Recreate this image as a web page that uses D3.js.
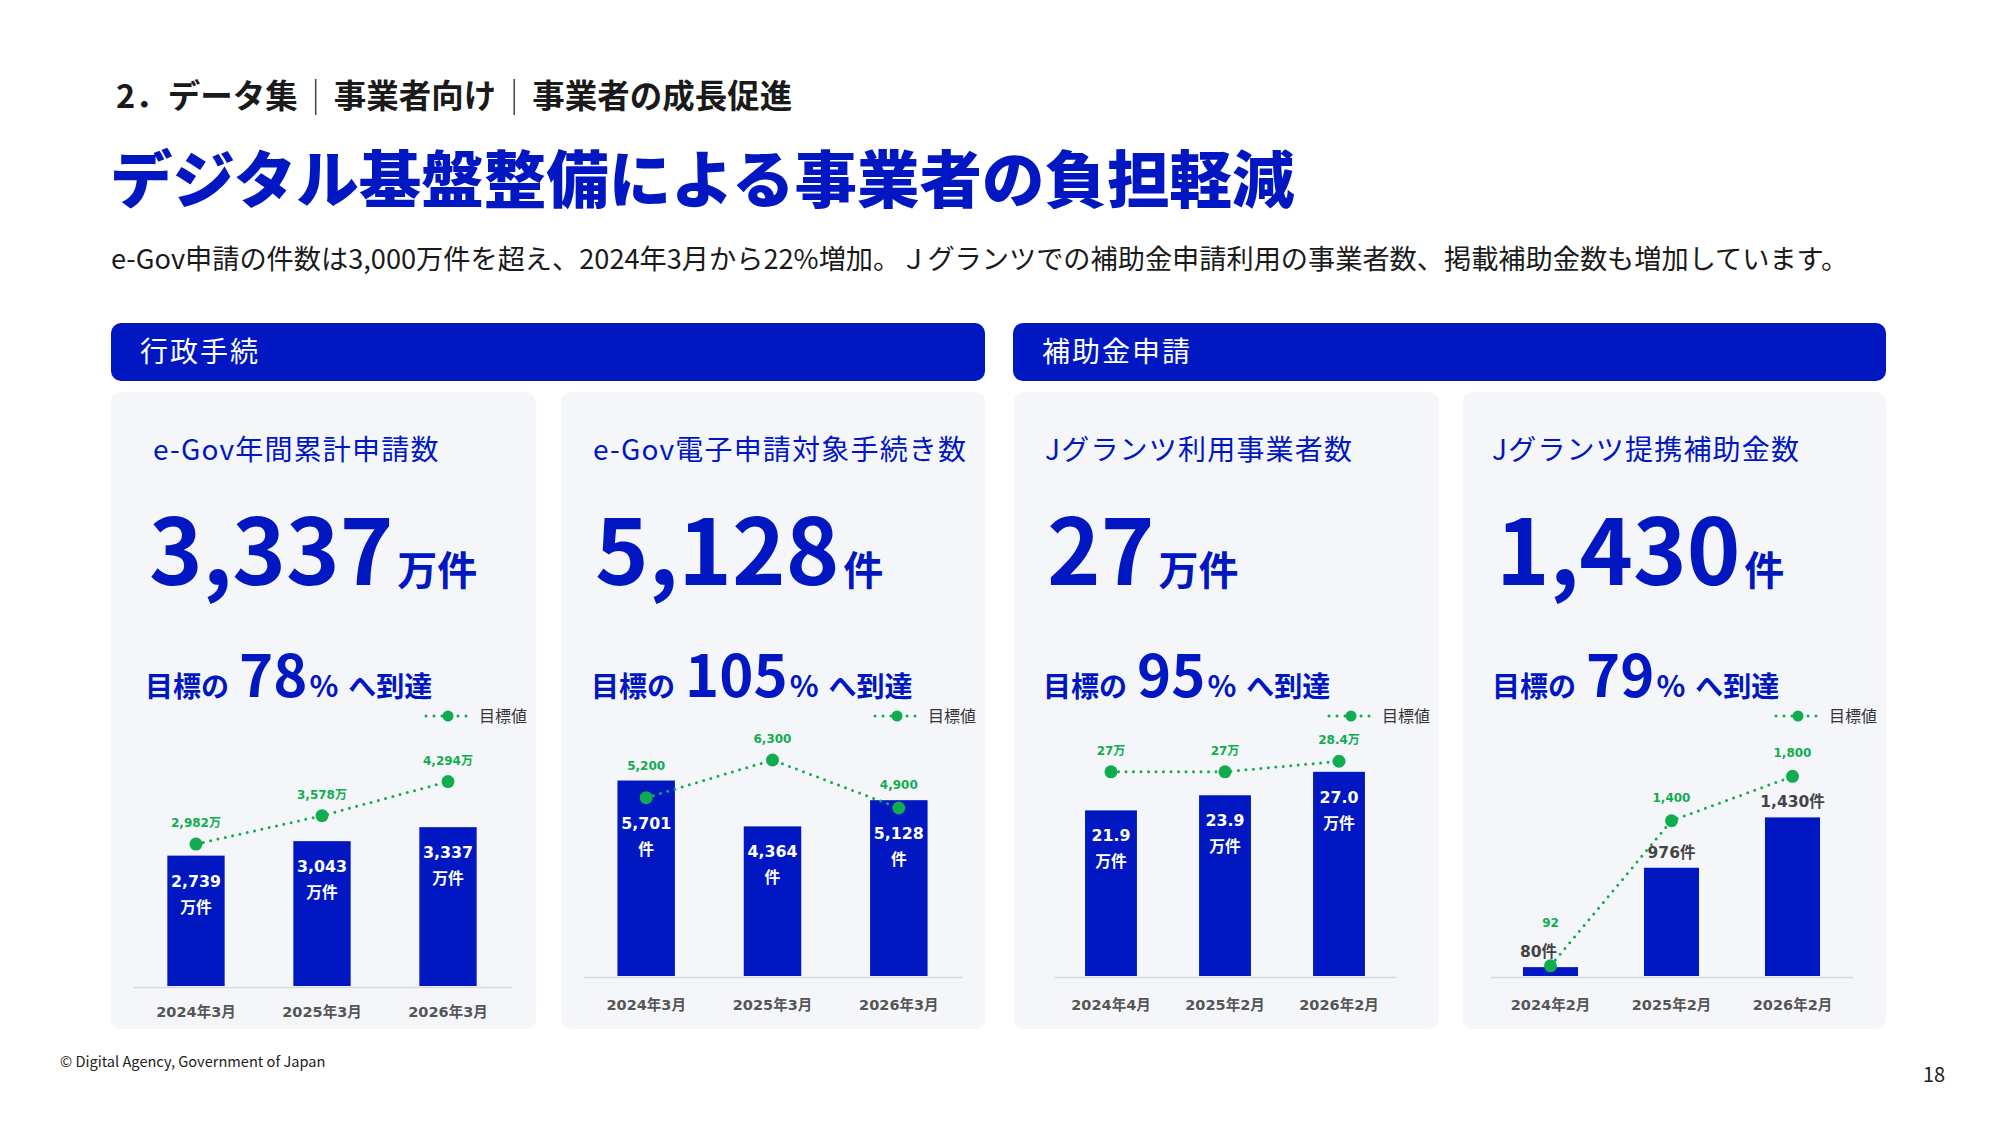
<!DOCTYPE html>
<html lang="ja">
<head>
<meta charset="utf-8">
<script src="https://d3js.org/d3.v7.min.js"></script>
<style>
  body { margin: 0; background: #fff; }
  svg { display: block; }
  .jp { font-family: 'Noto Sans CJK JP', sans-serif; }
  .num { font-family: 'DejaVu Sans', 'Noto Sans CJK JP', sans-serif; font-weight: bold; }
</style>
</head>
<body>
<script>
// ---- data ----
const breadcrumb = ["2．データ集", "事業者向け", "事業者の成長促進"];
const pageTitle = "デジタル基盤整備による事業者の負担軽減";
const lead = "e-Gov申請の件数は3,000万件を超え、2024年3月から22%増加。Ｊグランツでの補助金申請利用の事業者数、掲載補助金数も増加しています。";
const sections = ["行政手続", "補助金申請"];
const cardTitles = ["e-Gov年間累計申請数", "e-Gov電子申請対象手続き数", "Jグランツ利用事業者数", "Jグランツ提携補助金数"];
const headlineValues = ["3,337", "5,128", "27", "1,430"];
const headlineUnits = ["万件", "件", "万件", "件"];
const achievementRates = [78, 105, 95, 79];
const periods = [
  ["2024年3月", "2025年3月", "2026年3月"],
  ["2024年3月", "2025年3月", "2026年3月"],
  ["2024年4月", "2025年2月", "2026年2月"],
  ["2024年2月", "2025年2月", "2026年2月"]
];
const actuals = [
  [2739, 3043, 3337],
  [5701, 4364, 5128],
  [21.9, 23.9, 27.0],
  [80, 976, 1430]
];
const targets = [
  [2982, 3578, 4294],
  [5200, 6300, 4900],
  [27, 27, 28.4],
  [92, 1400, 1800]
];
const actualUnits = ["万件", "件", "万件", "件"];
const targetUnits = ["万", "", "万", ""];
const valueFormats = [",", ",", ".1f", ","];
const legendLabel = "目標値";

// ---- layout ----
const W = 2000, H = 1125;
const blue = "#0017c1", green = "#10ad50";
const layout = [
  {card: [111, 536], axis: [133, 511], base: 986, plotH: 238, yMax: 5000, titleDx: 42, dx: 38, tickPad: 20},
  {card: [561, 985], axis: [583, 962], base: 976, plotH: 240, yMax: 7000, titleDx: 32, dx: 34, tickPad: 23},
  {card: [1014, 1439], axis: [1054, 1396], base: 976, plotH: 242, yMax: 32, titleDx: 31, dx: 33, tickPad: 23},
  {card: [1463, 1886], axis: [1490, 1853], base: 976, plotH: 244, yMax: 2200, titleDx: 29, dx: 33, tickPad: 23, outside: true}
];

const svg = d3.select("body").append("svg").attr("width", W).attr("height", H);
svg.append("rect").attr("width", W).attr("height", H).attr("fill", "#fff");

// breadcrumb
const crumb = svg.append("g").attr("class", "jp");
let cx = 116;
breadcrumb.forEach((t, i) => {
  if (i > 0) {
    crumb.append("line").attr("x1", cx).attr("x2", cx).attr("y1", 79).attr("y2", 115)
      .attr("stroke", "#444").attr("stroke-width", 1.5);
    cx += 18;
  }
  const tx = crumb.append("text").attr("x", cx).attr("y", 108)
    .attr("font-size", 32.5).attr("font-weight", 700).attr("fill", "#1a1a1a").text(t);
  cx += tx.node().getComputedTextLength() + 18;
});

svg.append("text").attr("class", "jp").attr("x", 110).attr("y", 203)
  .attr("font-size", 62.5).attr("font-weight", 900).attr("fill", blue).text(pageTitle);

svg.append("text").attr("class", "jp").attr("x", 111).attr("y", 269)
  .attr("font-size", 27.2).attr("fill", "#1a1a1a").text(lead);

// section bands
const bands = [[111, 985], [1013, 1886]];
bands.forEach((b, i) => {
  svg.append("rect").attr("x", b[0]).attr("y", 323).attr("width", b[1] - b[0]).attr("height", 58)
    .attr("rx", 10).attr("fill", blue);
  svg.append("text").attr("class", "jp").attr("x", b[0] + 29).attr("y", 362)
    .attr("font-size", 28).attr("letter-spacing", 2).attr("fill", "#fff").text(sections[i]);
});

// cards
layout.forEach((L, i) => {
  const g = svg.append("g");
  const left = L.card[0], right = L.card[1];
  g.append("rect").attr("x", left).attr("y", 392).attr("width", right - left).attr("height", 637)
    .attr("rx", 10).attr("fill", "#f5f6fa");

  g.append("text").attr("class", "jp").attr("x", left + L.titleDx).attr("y", 460)
    .attr("font-size", 28).attr("letter-spacing", 1.2).attr("fill", blue).text(cardTitles[i]);

  const big = g.append("text").attr("class", "jp").attr("x", left + L.dx).attr("y", 585)
    .attr("font-weight", 700).attr("fill", blue);
  big.append("tspan").attr("font-size", 91).text(headlineValues[i]);
  big.append("tspan").attr("font-size", 40).attr("dx", 4).text(headlineUnits[i]);

  const ach = g.append("text").attr("class", "jp").attr("x", left + L.dx - 4).attr("y", 697)
    .attr("font-weight", 700).attr("fill", blue);
  ach.append("tspan").attr("font-size", 28).text("目標の");
  ach.append("tspan").attr("font-size", 58).attr("dx", 10).text(achievementRates[i]);
  ach.append("tspan").attr("font-size", 30).attr("dx", 2).text("%");
  ach.append("tspan").attr("font-size", 28).attr("dx", 10).text("へ到達");

  // legend
  const lx = right - 57, ly = 716;
  g.append("line").attr("x1", lx - 53).attr("x2", lx - 9).attr("y1", ly).attr("y2", ly)
    .attr("stroke", green).attr("stroke-width", 3).attr("stroke-dasharray", "0 8").attr("stroke-linecap", "round");
  g.append("circle").attr("cx", lx - 31).attr("cy", ly).attr("r", 5.5).attr("fill", green);
  g.append("text").attr("class", "jp").attr("x", lx).attr("y", ly + 6)
    .attr("font-size", 16).attr("fill", "#333").text(legendLabel);

  // chart
  const x = d3.scaleBand().domain(periods[i]).range(L.axis).paddingInner(0.545).paddingOuter(0.2725);
  const y = d3.scaleLinear().domain([0, L.yMax]).range([L.base, L.base - L.plotH]);
  const rows = periods[i].map((p, j) => ({p: p, v: actuals[i][j], t: targets[i][j]}));
  const mid = d => x(d.p) + x.bandwidth() / 2;
  const fmt = d3.format(valueFormats[i]);
  const tfmt = d3.format(",");

  const ax = g.append("g").attr("transform", `translate(0,${L.base + 1})`)
    .call(d3.axisBottom(x).tickSize(0).tickPadding(L.tickPad));
  ax.select(".domain").attr("stroke", "#d6d9e1").attr("stroke-width", 1.5);
  ax.selectAll("text").attr("class", "num").attr("font-size", 14.5).attr("fill", "#555");

  g.selectAll("rect.bar").data(rows).join("rect").attr("class", "bar")
    .attr("x", d => x(d.p)).attr("y", d => y(d.v))
    .attr("width", x.bandwidth()).attr("height", d => L.base - y(d.v))
    .attr("fill", blue);

  const line = d3.line().x(mid).y(d => y(d.t));
  g.append("path").datum(rows).attr("d", line).attr("fill", "none")
    .attr("stroke", green).attr("stroke-width", 3).attr("stroke-dasharray", "0 7.5").attr("stroke-linecap", "round");
  g.selectAll("circle.target").data(rows).join("circle").attr("class", "target")
    .attr("cx", mid).attr("cy", d => y(d.t)).attr("r", 6.5).attr("fill", green);

  // value labels
  if (L.outside) {
    g.selectAll("text.val").data(rows).join("text").attr("class", "num val")
      .attr("x", (d, j) => mid(d) - (j === 0 ? 12 : 0)).attr("y", d => y(d.v) - 10).attr("text-anchor", "middle")
      .attr("font-size", 15.5).attr("fill", "#444")
      .text(d => fmt(d.v) + actualUnits[i]);
  } else {
    const vl = g.selectAll("text.val").data(rows).join("text").attr("class", "num val")
      .attr("text-anchor", "middle").attr("font-size", 15.8).attr("fill", "#fff");
    vl.append("tspan").attr("x", mid).attr("y", d => Math.max(y(d.v), y(d.t)) + 31).text(d => fmt(d.v));
    vl.append("tspan").attr("x", mid).attr("y", d => Math.max(y(d.v), y(d.t)) + 57).text(actualUnits[i]);
  }

  // target labels
  g.selectAll("text.tgt").data(rows).join("text").attr("class", "num tgt")
    .attr("x", mid)
    .attr("y", d => L.outside ? Math.min(y(d.t) - 19, y(d.v) - 40) : Math.min(y(d.t) - 17, y(d.v) - 11))
    .attr("text-anchor", "middle").attr("font-size", 12).attr("fill", green)
    .text(d => tfmt(d.t) + targetUnits[i]);
});

// footer
svg.append("text").attr("class", "jp").attr("x", 60).attr("y", 1067)
  .attr("font-size", 14.6).attr("fill", "#222").text("© Digital Agency, Government of Japan");
svg.append("text").attr("class", "jp").attr("x", 1934).attr("y", 1082).attr("text-anchor", "middle")
  .attr("font-size", 20).attr("fill", "#222").text("18");
</script>
</body>
</html>
